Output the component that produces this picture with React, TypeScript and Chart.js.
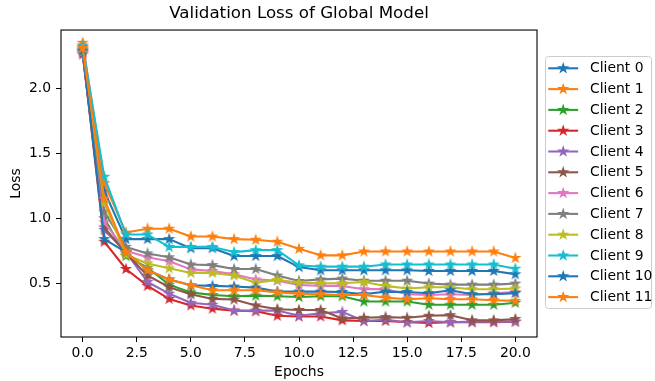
import React, { useEffect, useRef } from "react";
import { Chart, registerables } from "chart.js";

Chart.register(...registerables);

const epochs = [0, 1, 2, 3, 4, 5, 6, 7, 8, 9, 10, 11, 12, 13, 14, 15, 16, 17, 18, 19, 20];
const clientNames = ["Client 0", "Client 1", "Client 2", "Client 3", "Client 4", "Client 5", "Client 6", "Client 7", "Client 8", "Client 9", "Client 10", "Client 11"];
const clientColors = ["#1f77b4", "#ff7f0e", "#2ca02c", "#d62728", "#9467bd", "#8c564b", "#e377c2", "#7f7f7f", "#bcbd22", "#17becf", "#1f77b4", "#ff7f0e"];

const client0 = [2.32, 1.21, 0.84, 0.84, 0.84, 0.77, 0.77, 0.71, 0.71, 0.71, 0.625, 0.6, 0.6, 0.6, 0.6, 0.6, 0.595, 0.595, 0.595, 0.595, 0.57];
const client1 = [2.35, 1.27, 0.89, 0.92, 0.92, 0.86, 0.86, 0.84, 0.835, 0.82, 0.765, 0.715, 0.715, 0.745, 0.745, 0.745, 0.745, 0.745, 0.745, 0.745, 0.695];
const client2 = [2.3, 1.0, 0.71, 0.62, 0.49, 0.43, 0.41, 0.4, 0.405, 0.4, 0.395, 0.4, 0.4, 0.36, 0.36, 0.36, 0.335, 0.335, 0.335, 0.335, 0.35];
const client3 = [2.28, 0.82, 0.61, 0.48, 0.38, 0.33, 0.305, 0.29, 0.285, 0.25, 0.245, 0.245, 0.215, 0.21, 0.21, 0.2, 0.195, 0.2, 0.2, 0.2, 0.205];
const client4 = [2.27, 0.91, 0.74, 0.51, 0.42, 0.35, 0.335, 0.29, 0.29, 0.29, 0.25, 0.27, 0.28, 0.21, 0.22, 0.2, 0.21, 0.2, 0.205, 0.205, 0.205];
const client5 = [2.26, 0.93, 0.73, 0.56, 0.47, 0.415, 0.38, 0.375, 0.33, 0.3, 0.295, 0.295, 0.23, 0.235, 0.24, 0.235, 0.25, 0.255, 0.215, 0.215, 0.225];
const client6 = [2.28, 0.97, 0.75, 0.7, 0.67, 0.607, 0.594, 0.57, 0.53, 0.52, 0.487, 0.48, 0.48, 0.455, 0.455, 0.416, 0.41, 0.416, 0.41, 0.424, 0.433];
const client7 = [2.29, 1.05, 0.78, 0.73, 0.7, 0.645, 0.64, 0.61, 0.61, 0.56, 0.518, 0.53, 0.536, 0.52, 0.52, 0.52, 0.498, 0.49, 0.49, 0.49, 0.498];
const client8 = [2.3, 1.12, 0.72, 0.653, 0.615, 0.58, 0.58, 0.56, 0.505, 0.525, 0.505, 0.5, 0.5, 0.51, 0.48, 0.46, 0.47, 0.47, 0.454, 0.454, 0.46];
const client9 = [2.33, 1.32, 0.875, 0.875, 0.78, 0.78, 0.78, 0.74, 0.755, 0.755, 0.638, 0.628, 0.628, 0.628, 0.645, 0.645, 0.645, 0.645, 0.645, 0.645, 0.612];
const client10 = [2.29, 0.84, 0.74, 0.6, 0.53, 0.485, 0.48, 0.475, 0.467, 0.436, 0.436, 0.436, 0.433, 0.416, 0.436, 0.433, 0.424, 0.447, 0.416, 0.416, 0.424];
const client11 = [2.31, 1.15, 0.74, 0.6, 0.53, 0.485, 0.447, 0.447, 0.447, 0.43, 0.42, 0.416, 0.41, 0.41, 0.39, 0.378, 0.385, 0.378, 0.378, 0.37, 0.365];

const seriesValues = [client0, client1, client2, client3, client4, client5, client6, client7, client8, client9, client10, client11];

const xTicks = [0, 2.5, 5, 7.5, 10, 12.5, 15, 17.5, 20];
const yTicks = [0.5, 1.0, 1.5, 2.0];

const FONT = "'DejaVu Sans', sans-serif";

function drawStar(ctx: CanvasRenderingContext2D, cx: number, cy: number, r: number, color: string) {
  const inner = r * 0.381966;
  ctx.beginPath();
  for (let i = 0; i < 10; i++) {
    const rad = i % 2 === 0 ? r : inner;
    const a = -Math.PI / 2 + (i * Math.PI) / 5;
    const x = cx + rad * Math.cos(a);
    const y = cy + rad * Math.sin(a);
    if (i === 0) ctx.moveTo(x, y);
    else ctx.lineTo(x, y);
  }
  ctx.closePath();
  ctx.fillStyle = color;
  ctx.fill();
  ctx.lineWidth = 1.4;
  ctx.lineJoin = "miter";
  ctx.strokeStyle = color;
  ctx.stroke();
}

function makeStar(color: string): HTMLCanvasElement {
  const c = document.createElement("canvas");
  c.width = 14;
  c.height = 14;
  const ctx = c.getContext("2d")!;
  drawStar(ctx, 7, 7, 4.2, color);
  return c;
}

const framePlugin = {
  id: "frame",
  afterDatasetsDraw(chart: any) {
    const { ctx, chartArea } = chart;
    ctx.save();
    ctx.strokeStyle = "#000";
    ctx.lineWidth = 1.1;
    ctx.strokeRect(chartArea.left, chartArea.top, chartArea.right - chartArea.left, chartArea.bottom - chartArea.top);
    ctx.restore();
  },
};

const legendPlugin = {
  id: "mplLegend",
  afterDraw(chart: any) {
    const { ctx } = chart;
    ctx.save();
    const lx = 545.5, ly = 56.5, lw = 106, lh = 252, rr = 3;
    ctx.beginPath();
    ctx.moveTo(lx + rr, ly);
    ctx.lineTo(lx + lw - rr, ly);
    ctx.quadraticCurveTo(lx + lw, ly, lx + lw, ly + rr);
    ctx.lineTo(lx + lw, ly + lh - rr);
    ctx.quadraticCurveTo(lx + lw, ly + lh, lx + lw - rr, ly + lh);
    ctx.lineTo(lx + rr, ly + lh);
    ctx.quadraticCurveTo(lx, ly + lh, lx, ly + lh - rr);
    ctx.lineTo(lx, ly + rr);
    ctx.quadraticCurveTo(lx, ly, lx + rr, ly);
    ctx.closePath();
    ctx.fillStyle = "rgba(255,255,255,0.8)";
    ctx.fill();
    ctx.strokeStyle = "#cccccc";
    ctx.lineWidth = 1;
    ctx.stroke();
    ctx.font = `13.9px ${FONT}`;
    ctx.textBaseline = "middle";
    ctx.textAlign = "left";
    clientNames.forEach((name, i) => {
      const cy = 68.3 + i * 20.8;
      const color = clientColors[i];
      ctx.beginPath();
      ctx.moveTo(549.3, cy);
      ctx.lineTo(577.1, cy);
      ctx.strokeStyle = color;
      ctx.lineWidth = 2.08;
      ctx.lineCap = "square";
      ctx.stroke();
      drawStar(ctx, 563.2, cy, 4.2, color);
      ctx.fillStyle = "#000";
      ctx.fillText(name, 590, cy + 0.5);
    });
    ctx.restore();
  },
};

export default function App() {
  const canvasRef = useRef<HTMLCanvasElement | null>(null);

  useEffect(() => {
    const canvas = canvasRef.current;
    if (!canvas) return;
    const datasets = seriesValues.map((vals, i) => {
      const star = makeStar(clientColors[i]);
      return {
        label: clientNames[i],
        data: epochs.map((e, j) => ({ x: e, y: vals[j] })),
        borderColor: clientColors[i],
        backgroundColor: clientColors[i],
        borderWidth: 2.08,
        borderJoinStyle: "round" as const,
        borderCapStyle: "square" as const,
        pointStyle: star,
        pointRadius: 5,
        pointHoverRadius: 5,
        tension: 0,
        fill: false,
        order: seriesValues.length - i,
      };
    });

    const chart = new Chart(canvas, {
      type: "line",
      data: { datasets } as any,
      plugins: [framePlugin, legendPlugin],
      options: {
        animation: false,
        responsive: false,
        devicePixelRatio: 1,
        events: [],
        layout: { padding: { left: 0, right: 118, top: 0, bottom: 0 } },
        plugins: {
          legend: { display: false },
          tooltip: { enabled: false },
          title: {
            display: true,
            text: "Validation Loss of Global Model",
            fullSize: false,
            color: "#000",
            font: { family: FONT, size: 16.7, weight: "normal" as any, lineHeight: 1.2 },
            padding: { top: 4, bottom: 6 },
          },
        },
        scales: {
          x: {
            type: "linear",
            min: -1,
            max: 21,
            afterBuildTicks: (scale: any) => {
              scale.ticks = xTicks.map((v) => ({ value: v }));
            },
            afterFit: (scale: any) => {
              scale.height = 44;
            },
            ticks: {
              autoSkip: false,
              maxRotation: 0,
              padding: 3,
              color: "#000",
              font: { family: FONT, size: 13.9 },
              callback: (v: any) => Number(v).toFixed(1),
            },
            grid: { display: true, drawOnChartArea: false, drawTicks: true, tickLength: 5, color: "#000", lineWidth: 1 },
            border: { display: false },
            title: {
              display: true,
              text: "Epochs",
              color: "#000",
              font: { family: FONT, size: 13.9, lineHeight: 1.2 },
              padding: { top: 0, bottom: 0 },
            },
          },
          y: {
            type: "linear",
            min: 0.087,
            max: 2.448,
            afterBuildTicks: (scale: any) => {
              scale.ticks = yTicks.map((v) => ({ value: v }));
            },
            afterFit: (scale: any) => {
              scale.width = 61;
            },
            ticks: {
              autoSkip: false,
              padding: 5,
              color: "#000",
              font: { family: FONT, size: 13.9 },
              callback: (v: any) => Number(v).toFixed(1),
            },
            grid: { display: true, drawOnChartArea: false, drawTicks: true, tickLength: 5, color: "#000", lineWidth: 1 },
            border: { display: false },
            title: {
              display: true,
              text: "Loss",
              color: "#000",
              font: { family: FONT, size: 13.9, lineHeight: 1.2 },
              padding: { top: 8, bottom: 0 },
            },
          },
        },
      } as any,
    });
    return () => chart.destroy();
  }, []);

  return (
    <div style={{ position: "fixed", left: 0, top: 0, width: 655, height: 381, background: "#fff" }}>
      <canvas ref={canvasRef} width={655} height={381} style={{ width: 655, height: 381, display: "block" }} />
    </div>
  );
}
